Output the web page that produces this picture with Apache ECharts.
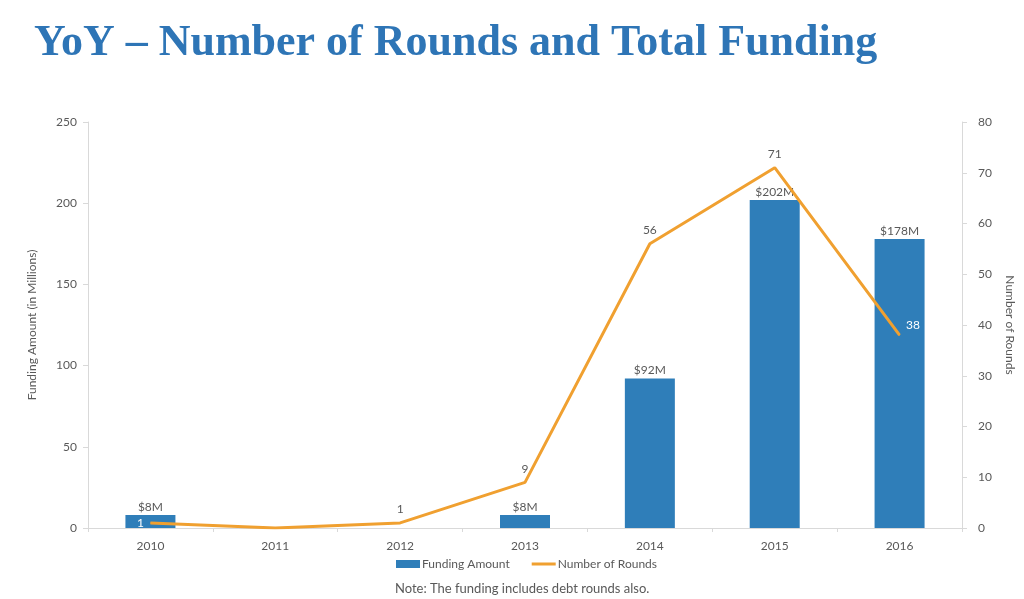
<!DOCTYPE html>
<html><head><meta charset="utf-8">
<script src="https://cdn.jsdelivr.net/npm/echarts@6/dist/echarts.min.js"></script>
<style>html,body{margin:0;padding:0;background:#fff}#c{width:1024px;height:599px}</style>
</head><body><div id="c"></div>
<script>
const years = ['2010','2011','2012','2013','2014','2015','2016'];
const funding = [8, 0, 0, 8, 92, 202, 178];
const rounds = [1, 0, 1, 9, 56, 71, 38];
const leftTicks = [0, 50, 100, 150, 200, 250];
const rightTicks = [0, 10, 20, 30, 40, 50, 60, 70, 80];

const txt = '#595959';
const font = 'Lato';
const chart = echarts.init(document.getElementById('c'));
const roundsData = rounds.map((v, i) => {
  const d = {value: v};
  if (i === 0) d.label = {position: 'left', color: '#fff', distance: 6};
  if (i === 6) d.label = {position: 'right', color: '#fff', distance: 6, offset: [0, -10]};
  return d;
});
chart.setOption({
  animation: false,
  title: {
    text: 'YoY – Number of Rounds and Total Funding',
    left: 29, top: 17,
    textStyle: {fontFamily: 'Liberation Serif', fontWeight: 'bold', fontSize: 44, color: '#2E75B6'}
  },
  grid: {left: 88, right: 59, top: 122, bottom: 71, containLabel: false},
  legend: {
    bottom: 24, left: 391, itemGap: 22, itemWidth: 24, itemHeight: 8,
    textStyle: {fontFamily: font, fontSize: 12, color: txt, padding: [0, 0, 0, -3]},
    data: [
      {name: 'Funding Amount', icon: 'rect'},
      {name: 'Number of Rounds', icon: 'path://M0,0h0.01v0.01h-0.01zM0,2.5h24v3h-24zM23.99,7.99h0.01v0.01h-0.01z'}
    ]
  },
  graphic: [{
    type: 'text', left: 395, top: 582,
    style: {text: 'Note: The funding includes debt rounds also.', fontFamily: font, fontSize: 13, fill: txt}
  }],
  xAxis: {
    type: 'category', data: years,
    axisLine: {lineStyle: {color: '#D9D9D9'}},
    axisTick: {show: true, length: 4, lineStyle: {color: '#D9D9D9'}},
    axisLabel: {fontFamily: font, fontSize: 12, color: txt, margin: 12}
  },
  yAxis: [{
    type: 'value', min: 0, max: 250, interval: 50,
    name: 'Funding Amount (in Millions)', nameLocation: 'middle', nameGap: 50,
    nameTextStyle: {fontFamily: font, fontSize: 12, color: txt},
    axisLine: {show: true, lineStyle: {color: '#D9D9D9'}},
    axisTick: {show: true, length: 5, lineStyle: {color: '#D9D9D9'}},
    axisLabel: {fontFamily: font, fontSize: 12, color: txt, margin: 11},
    splitLine: {show: false}
  }, {
    type: 'value', min: 0, max: 80, interval: 10,
    name: 'Number of Rounds', nameLocation: 'middle', nameGap: 42, nameRotate: -90,
    nameTextStyle: {fontFamily: font, fontSize: 12, color: txt},
    axisLine: {show: true, lineStyle: {color: '#D9D9D9'}},
    axisTick: {show: true, length: 5, lineStyle: {color: '#D9D9D9'}},
    axisLabel: {fontFamily: font, fontSize: 12, color: txt, margin: 16},
    splitLine: {show: false}
  }],
  series: [{
    name: 'Funding Amount', type: 'bar', data: funding, barWidth: 50,
    itemStyle: {color: '#2F7EB9'},
    label: {show: true, position: 'top', distance: 2, fontFamily: font, fontSize: 12, color: txt,
      formatter: p => p.value ? '$' + p.value + 'M' : ''}
  }, {
    name: 'Number of Rounds', type: 'line', yAxisIndex: 1, data: roundsData,
    symbol: 'circle', symbolSize: 1, showSymbol: true,
    lineStyle: {color: '#F0A030', width: 3},
    itemStyle: {color: '#F0A030'},
    label: {show: true, position: 'top', distance: 7, fontFamily: font, fontSize: 12, color: txt,
      formatter: p => p.value ? String(p.value) : ''}
  }]
});
</script></body></html>
